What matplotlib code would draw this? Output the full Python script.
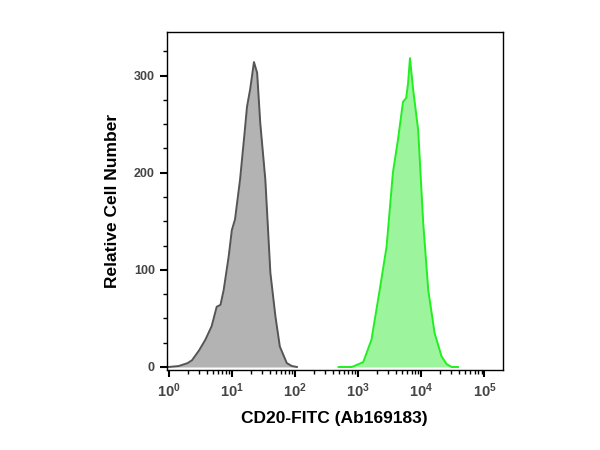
import numpy as np
import matplotlib
matplotlib.use('Agg')
from matplotlib import pyplot as plt

# log10 fluorescence positions and relative cell counts
ctrl_log = [0.0, 0.16, 0.30, 0.37, 0.48, 0.58, 0.68, 0.76, 0.82, 0.87, 0.95, 1.0, 1.05,
            1.13, 1.20, 1.24, 1.29, 1.35, 1.40, 1.45, 1.53, 1.61, 1.69, 1.76, 1.87, 1.95, 2.03]
ctrl_cnt = [0, 1, 4, 7, 17, 28, 42, 62, 64, 79, 114, 141, 152,
            193, 240, 268, 286, 314, 303, 251, 193, 97, 52, 21, 4, 1, 0]

cd20_log = [2.69, 2.90, 3.08, 3.21, 3.34, 3.45, 3.55, 3.63, 3.71, 3.76, 3.79,
            3.82, 3.87, 3.95, 4.03, 4.11, 4.21, 4.32, 4.40, 4.48, 4.58]
cd20_cnt = [0, 0, 5, 28, 79, 124, 200, 234, 273, 277, 292,
            318, 286, 244, 148, 79, 35, 11, 3, 0, 0]

plt.rcParams['font.family'] = ['Liberation Sans', 'DejaVu Sans']

fig = plt.figure(figsize=(6, 4.5), dpi=100)
ax = fig.add_axes([0.278, 0.178, 0.56, 0.751])

xc = 10 ** np.array(ctrl_log)
xg = 10 ** np.array(cd20_log)
ax.fill_between(xc, ctrl_cnt, 0, color='#b3b3b3', lw=0)
ax.plot(xc, ctrl_cnt, color='#555555', lw=1.4)
ax.fill_between(xg, cd20_cnt, 0, color='#9cf59c', lw=0)
ax.plot(xg, cd20_cnt, color='#22ee22', lw=1.4)

ax.set_xscale('log')
ax.set_xlim(10 ** -0.03, 10 ** 5.29)
ax.set_ylim(-3, 345)
ax.set_yticks([0, 100, 200, 300])
ax.set_yticks(np.arange(0, 345, 25), minor=True)

for s in ax.spines.values():
    s.set_linewidth(1.0)
ax.tick_params(which='major', length=5, width=1.5, direction='out',
               labelsize=9, labelcolor='#444444')
ax.tick_params(axis='x', which='major', labelsize=10.5)
ax.tick_params(which='minor', length=3, width=1, direction='out')
for lab in ax.get_xticklabels() + ax.get_yticklabels():
    lab.set_fontweight('bold')

ax.set_xlabel('CD20-FITC (Ab169183)', fontsize=12.5, fontweight='bold', labelpad=8)
ax.set_ylabel('Relative Cell Number', fontsize=12.5, fontweight='bold', labelpad=10)

plt.savefig('out.png', dpi=100)
